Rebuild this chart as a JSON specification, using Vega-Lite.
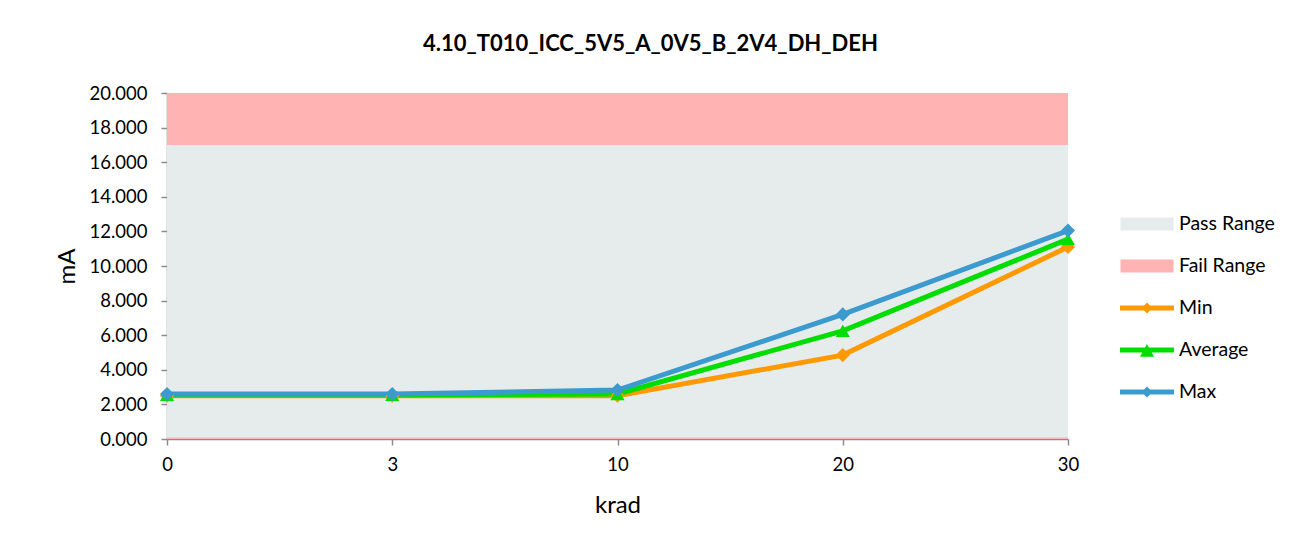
{
  "$schema": "https://vega.github.io/schema/vega-lite/v6.json",
  "width": 901,
  "height": 346,
  "autosize": {"type": "none"},
  "padding": {"left": 167, "top": 93, "right": 233, "bottom": 112},
  "background": "white",
  "title": {
    "text": "4.10_T010_ICC_5V5_A_0V5_B_2V4_DH_DEH",
    "font": "Lato",
    "fontSize": 22,
    "fontWeight": "bold",
    "color": "#000000",
    "anchor": "middle",
    "frame": "group",
    "offset": 28,
    "dx": 33
  },
  "config": {
    "view": {"stroke": null},
    "font": "Lato"
  },
  "datasets": {
    "ranges": [
      {"series": "Pass Range", "lo": 0, "hi": 17},
      {"series": "Fail Range", "lo": 17, "hi": 20},
      {"series": "Fail Range", "lo": 0, "hi": 0.09}
    ],
    "values": [
      {"krad": "0", "series": "Min", "value": 2.5},
      {"krad": "0", "series": "Average", "value": 2.55},
      {"krad": "0", "series": "Max", "value": 2.6},
      {"krad": "3", "series": "Min", "value": 2.5},
      {"krad": "3", "series": "Average", "value": 2.55},
      {"krad": "3", "series": "Max", "value": 2.6},
      {"krad": "10", "series": "Min", "value": 2.5},
      {"krad": "10", "series": "Average", "value": 2.6},
      {"krad": "10", "series": "Max", "value": 2.83},
      {"krad": "20", "series": "Min", "value": 4.85},
      {"krad": "20", "series": "Average", "value": 6.25},
      {"krad": "20", "series": "Max", "value": 7.2},
      {"krad": "30", "series": "Min", "value": 11.1},
      {"krad": "30", "series": "Average", "value": 11.55},
      {"krad": "30", "series": "Max", "value": 12.05}
    ]
  },
  "encoding": {
    "y": {
      "type": "quantitative",
      "scale": {"domain": [0, 20], "nice": false, "zero": true},
      "axis": {
        "title": "mA",
        "values": [0, 2, 4, 6, 8, 10, 12, 14, 16, 18, 20],
        "format": ".3f",
        "grid": false,
        "domainColor": "#8c8c8c",
        "domainWidth": 1.5,
        "tickColor": "#8c8c8c",
        "tickWidth": 1.5,
        "tickSize": 6,
        "labelFontSize": 18.5,
        "labelColor": "#000000",
        "labelPadding": 14,
        "titleFontSize": 24,
        "titleFontWeight": "normal",
        "titleColor": "#000000",
        "titlePadding": 9
      }
    }
  },
  "layer": [
    {
      "data": {"name": "ranges"},
      "mark": {"type": "rect"},
      "encoding": {
        "y": {"field": "lo", "type": "quantitative"},
        "y2": {"field": "hi"},
        "color": {
          "field": "series",
          "type": "nominal",
          "scale": {
            "domain": ["Pass Range", "Fail Range", "Min", "Average", "Max"],
            "range": ["#E6EBEB", "#FFB3B3", "#FF9900", "#00DD00", "#3C9BCE"]
          },
          "legend": {
            "title": null,
            "orient": "none",
            "legendX": 970,
            "legendY": 121,
            "padding": 0,
            "symbolSize": 400,
            "symbolStrokeWidth": 0,
            "symbolOpacity": 1,
            "symbolType": {"expr": "datum.value === 'Min' || datum.value === 'Max' ? 'M-2.7,-0.25H-0.3L0,-0.55L0.3,-0.25H2.7V0.25H0.3L0,0.55L-0.3,0.25H-2.7Z' : datum.value === 'Average' ? 'M-2.7,-0.25H-0.19L0,-0.6L0.19,-0.25H2.7V0.25H0.47L0.7,0.67H-0.7L-0.47,0.25H-2.7Z' : 'M-2.65,-0.65H2.65V0.65H-2.65Z'"},
            "labelFontSize": 19.5,
            "labelColor": "#000000",
            "labelOffset": 22,
            "rowPadding": 22,
            "labelLimit": 200
          }
        }
      }
    },
    {
      "data": {"name": "values"},
      "mark": {"type": "line", "strokeWidth": 5},
      "encoding": {
        "x": {
          "field": "krad",
          "type": "ordinal",
          "scale": {"domain": ["0", "3", "10", "20", "30"], "padding": 0},
          "axis": {
            "title": "krad",
            "labelAngle": 0,
            "grid": false,
            "domainColor": "#8c8c8c",
            "domainWidth": 1.5,
            "tickColor": "#8c8c8c",
            "tickWidth": 1.5,
            "tickSize": 6,
            "labelFontSize": 18.5,
            "labelColor": "#000000",
            "labelPadding": 10,
            "titleFontSize": 24,
            "titleFontWeight": "normal",
            "titleColor": "#000000",
            "titlePadding": 20
          }
        },
        "y": {"field": "value", "type": "quantitative"},
        "color": {"field": "series", "type": "nominal"}
      }
    },
    {
      "data": {"name": "values"},
      "mark": {"type": "point", "filled": true, "opacity": 1, "size": 200},
      "encoding": {
        "x": {"field": "krad", "type": "ordinal"},
        "y": {"field": "value", "type": "quantitative"},
        "color": {"field": "series", "type": "nominal"},
        "shape": {
          "field": "series",
          "type": "nominal",
          "scale": {"domain": ["Min", "Average", "Max"], "range": ["diamond", "triangle-up", "diamond"]},
          "legend": null
        }
      }
    }
  ]
}
